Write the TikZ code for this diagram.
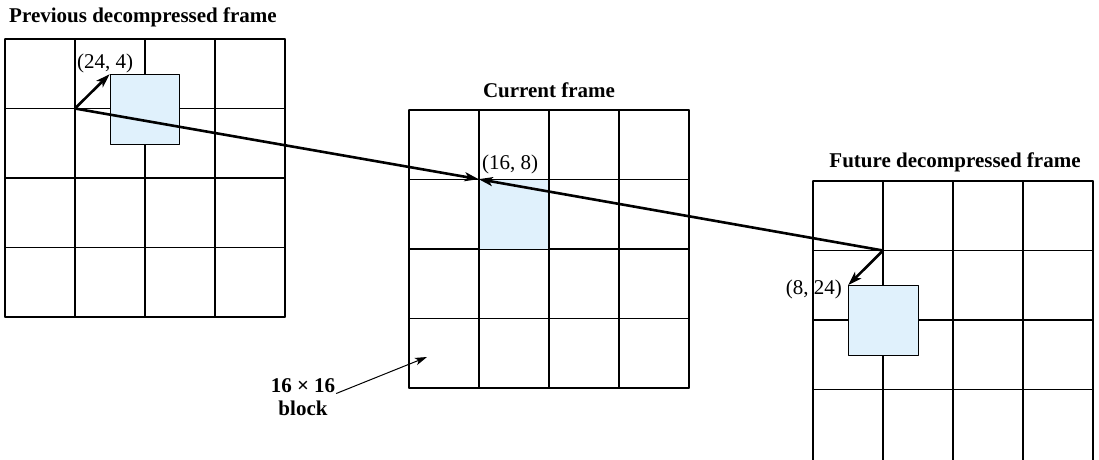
\documentclass[tikz,border=0pt]{standalone}
\usepackage{fontspec}
\setmainfont{Liberation Serif}
\usetikzlibrary{arrows.meta}
\definecolor{Bfill}{RGB}{224,241,252}

\begin{document}
\begin{tikzpicture}[x=1pt,y=-1pt,line cap=round,line join=round,
  gridln/.style={line width=1.2pt},
  blk/.style={draw,line width=1.2pt,fill=Bfill,minimum size=69.5pt,inner sep=0pt},
  mv/.style={line width=2.6pt,-{Stealth[length=14pt,width=9pt,inset=3.5pt]}},
  ptr/.style={line width=1pt,-{Stealth[length=12pt,width=7.5pt,inset=3pt]}},
  lbl/.style={inner sep=1pt,font=\fontsize{21}{23}\selectfont},
  ttl/.style={inner sep=1pt,font=\bfseries\fontsize{21}{23}\selectfont}]
\path[use as bounding box] (0,0) rectangle (1099,459);
% previous decompressed frame
\foreach \k in {0,...,4} {
  \draw[gridln] (5+70*\k,39) -- (5+70*\k,317);
  \draw[gridln] (5,39+69.5*\k) -- (285,39+69.5*\k);
}
% current frame
\foreach \k in {0,...,4} {
  \draw[gridln] (409+70*\k,110) -- (409+70*\k,388);
  \draw[gridln] (409,110+69.5*\k) -- (689,110+69.5*\k);
}
% future decompressed frame
\foreach \k in {0,...,4} {
  \draw[gridln] (813+70*\k,181) -- (813+70*\k,462);
}
\foreach \k in {0,...,3} {
  \draw[gridln] (813,181+69.5*\k) -- (1093,181+69.5*\k);
}
\node[blk] (prevblk) at (145,109.5) {};
\node[blk] (curblk) at (514,214.5) {};
\node[blk] (nextblk) at (883.5,320.5) {};
\coordinate (prevO) at (75,108.5);
\coordinate (nextO) at (883,250.5);
\coordinate (blktip) at (427,357);
\draw[mv] (prevO) -- (prevblk.north west);
\draw[mv] (prevO) -- (curblk.north west);
\draw[mv] (nextO) -- (curblk.north west);
\draw[mv] (nextO) -- (nextblk.north west);
\node[lbl,anchor=base] (prevlbl) at (105,68) {(24, 4)};
\node[lbl,anchor=base] (curlbl) at (510,169) {(16, 8)};
\node[lbl,anchor=base east] (nextlbl) at (843,294) {(8, 24)};
\node[ttl,anchor=base] (prevttl) at (143,22) {Previous decompressed frame};
\node[ttl,anchor=base] (curttl) at (549,97) {Current frame};
\node[ttl,anchor=base] (nextttl) at (955,167) {Future decompressed frame};
\node[ttl,anchor=base] (blk1) at (303,392) {16 × 16};
\node[ttl,anchor=base] (blk2) at (303,415) {block};
\draw[ptr] (blk1.south east) -- (blktip);
\end{tikzpicture}
\end{document}
